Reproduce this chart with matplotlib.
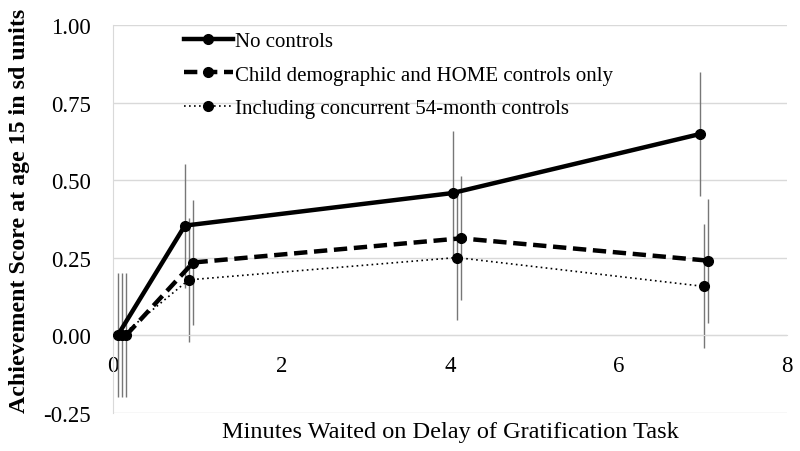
import matplotlib
matplotlib.use("Agg")
import matplotlib.pyplot as plt
import numpy as np

plt.rcParams['font.family'] = ['Liberation Serif', 'DejaVu Serif']

# Data
labels = ["No controls",
          "Child demographic and HOME controls only",
          "Including concurrent 54-month controls"]
x_none = [0.06, 0.855, 4.03, 6.96]
y_none = [0.0, 0.353, 0.458, 0.648]
e_none = [0.2, 0.2, 0.2, 0.2]

x_home = [0.16, 0.953, 4.13, 7.06]
y_home = [0.0, 0.234, 0.312, 0.240]
e_home = [0.2, 0.2, 0.2, 0.2]

x_conc = [0.11, 0.90, 4.08, 7.01]
y_conc = [0.0, 0.178, 0.250, 0.157]
e_conc = [0.2, 0.2, 0.2, 0.2]

xticks = [0, 2, 4, 6, 8]
yticks = [-0.25, 0.0, 0.25, 0.50, 0.75, 1.00]
ytick_labels = ["-0.25", "0.00", "0.25", "0.50", "0.75", "1.00"]

fig = plt.figure(figsize=(8, 4.52), dpi=100)
ax = fig.add_axes([0.141, 0.085, 0.843, 0.8575])

ecol = '#777777'
ax.errorbar(x_none, y_none, yerr=e_none, fmt='none', ecolor=ecol, elinewidth=1.0, capsize=0, zorder=2)
ax.errorbar(x_home, y_home, yerr=e_home, fmt='none', ecolor=ecol, elinewidth=1.0, capsize=0, zorder=2)
ax.errorbar(x_conc, y_conc, yerr=e_conc, fmt='none', ecolor=ecol, elinewidth=1.0, capsize=0, zorder=2)

ax.plot(x_none, y_none, color='black', lw=3.2, marker='o', ms=7, label=labels[0], zorder=4)
l2, = ax.plot(x_home, y_home, color='black', lw=3.2, marker='o', ms=7, label=labels[1], zorder=4)
l2.set_dashes((3.0, 1.5))
ax.plot(x_conc, y_conc, color='black', lw=1.2, marker='o', ms=7, linestyle=(0, (1, 2)), label=labels[2], zorder=4)

ax.set_xlim(0, 8)
ax.set_ylim(-0.25, 1.0)
ax.set_yticks(yticks)
ax.set_yticklabels(ytick_labels)
ax.set_xticks(xticks)
ax.set_xticklabels([str(t) for t in xticks])

ax.grid(axis='y', color='#d9d9d9', lw=1.0)
ax.set_axisbelow(True)
for s in ['top', 'right']:
    ax.spines[s].set_visible(False)
ax.spines['left'].set_color('#d9d9d9')
ax.spines['bottom'].set_position(('data', 0))
ax.spines['bottom'].set_color('#d9d9d9')
ax.tick_params(axis='both', length=0, labelsize=16.5)
ax.tick_params(axis='x', pad=14)
ax.tick_params(axis='y', pad=16)

ax.set_xlabel("Minutes Waited on Delay of Gratification Task", fontsize=17.5, va='center')
ax.xaxis.set_label_coords(0.5, -0.048)
ax.set_ylabel("Achievement Score at age 15 in sd units", fontsize=17.2, fontweight='bold')
ax.yaxis.set_label_coords(-0.123, 0.523)

leg = ax.legend(loc='upper left', bbox_to_anchor=(0.093, 1.005), frameon=False,
                fontsize=15, handlelength=2.35, handletextpad=0.12, labelspacing=0.68,
                borderaxespad=0)

fig.savefig("out.png", dpi=100)
